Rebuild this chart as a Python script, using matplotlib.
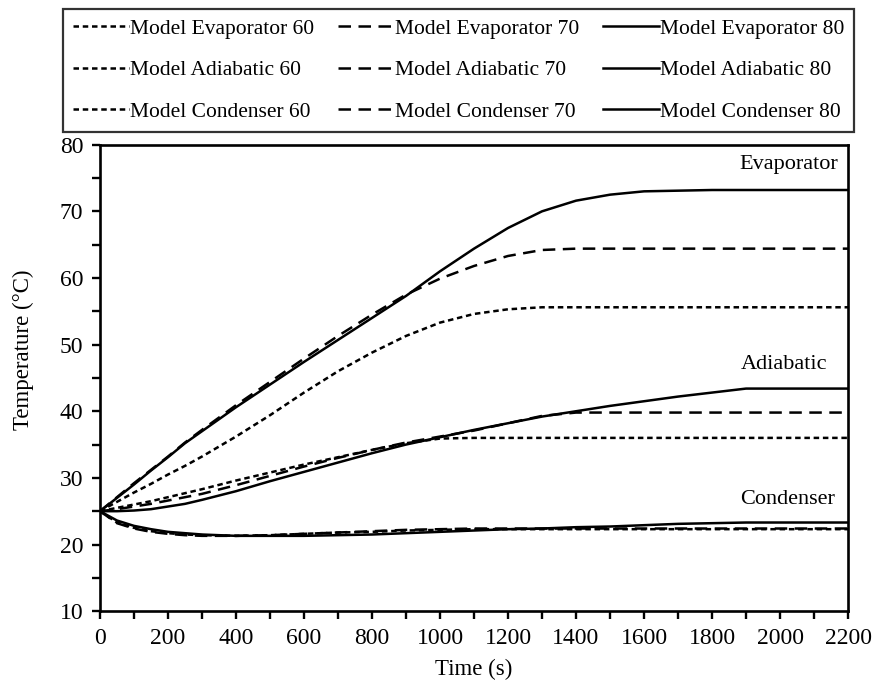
import numpy as np
import matplotlib.pyplot as plt
from matplotlib.ticker import MultipleLocator

plt.rcParams['font.family'] = ['Liberation Serif', 'DejaVu Serif']

# time axis (s)
time = [0, 50, 100, 150, 200, 250, 300, 400, 500, 600, 700, 800, 900, 1000,
        1100, 1200, 1300, 1400, 1500, 1600, 1700, 1800, 1900, 2000, 2100, 2200]

# evaporator temperature (C) for 60 / 70 / 80 cases
evap_60 = [25.0, 26.4, 27.8, 29.1, 30.5, 31.8, 33.2, 36.2, 39.4, 42.8, 46.0, 48.8, 51.3, 53.3,
           54.6, 55.3, 55.6, 55.6, 55.6, 55.6, 55.6, 55.6, 55.6, 55.6, 55.6, 55.6]
evap_70 = [25.0, 27.1, 29.2, 31.2, 33.2, 35.3, 37.2, 40.9, 44.4, 47.9, 51.3, 54.5, 57.5, 59.9,
           61.8, 63.3, 64.2, 64.4, 64.4, 64.4, 64.4, 64.4, 64.4, 64.4, 64.4, 64.4]
evap_80 = [25.0, 27.0, 29.0, 31.1, 33.1, 35.2, 37.0, 40.6, 44.0, 47.4, 50.7, 54.0, 57.3, 61.0,
           64.4, 67.5, 70.0, 71.6, 72.5, 73.0, 73.1, 73.2, 73.2, 73.2, 73.2, 73.2]

# adiabatic section
adia_60 = [25.0, 25.5, 26.0, 26.5, 27.1, 27.7, 28.3, 29.6, 30.8, 32.0, 33.1, 34.2, 35.2, 35.9,
           36.0, 36.0, 36.0, 36.0, 36.0, 36.0, 36.0, 36.0, 36.0, 36.0, 36.0, 36.0]
adia_70 = [25.0, 25.3, 25.7, 26.1, 26.6, 27.1, 27.6, 28.9, 30.3, 31.7, 33.0, 34.2, 35.3, 36.2,
           37.1, 38.2, 39.3, 39.8, 39.8, 39.8, 39.8, 39.8, 39.8, 39.8, 39.8, 39.8]
adia_80 = [25.0, 25.0, 25.1, 25.3, 25.7, 26.1, 26.7, 28.0, 29.5, 30.9, 32.3, 33.7, 35.0, 36.1,
           37.2, 38.2, 39.2, 40.0, 40.8, 41.5, 42.2, 42.8, 43.4, 43.4, 43.4, 43.4]

# condenser section
cond_60 = [25.0, 23.3, 22.5, 22.0, 21.7, 21.5, 21.4, 21.3, 21.4, 21.6, 21.8, 21.9, 22.1, 22.2,
           22.3, 22.3, 22.3, 22.3, 22.3, 22.3, 22.3, 22.3, 22.3, 22.3, 22.3, 22.3]
cond_70 = [25.0, 23.2, 22.4, 21.9, 21.6, 21.4, 21.3, 21.3, 21.4, 21.6, 21.8, 22.0, 22.2, 22.3,
           22.4, 22.4, 22.4, 22.4, 22.4, 22.4, 22.4, 22.4, 22.4, 22.4, 22.4, 22.4]
cond_80 = [25.0, 23.6, 22.8, 22.3, 21.9, 21.7, 21.5, 21.3, 21.3, 21.3, 21.4, 21.5, 21.7, 21.9,
           22.1, 22.3, 22.4, 22.6, 22.7, 22.9, 23.1, 23.2, 23.3, 23.3, 23.3, 23.3]

styles = {60: (0, (2.2, 1.5)), 70: (0, (5.0, 3.0)), 80: '-'}

fig = plt.figure(figsize=(8.77, 6.89), dpi=100)
ax = fig.add_axes([0.114, 0.113, 0.853, 0.677])

series = [
    ('Evaporator', 60, evap_60), ('Adiabatic', 60, adia_60), ('Condenser', 60, cond_60),
    ('Evaporator', 70, evap_70), ('Adiabatic', 70, adia_70), ('Condenser', 70, cond_70),
    ('Evaporator', 80, evap_80), ('Adiabatic', 80, adia_80), ('Condenser', 80, cond_80),
]
handles = []
for name, case, vals in series:
    h, = ax.plot(time, vals, color='black', lw=1.8, linestyle=styles[case],
                 label=f'Model {name} {case}')
    handles.append(h)

ax.set_xlim(0, 2200)
ax.set_ylim(10, 80)
ax.xaxis.set_major_locator(MultipleLocator(200))
ax.xaxis.set_minor_locator(MultipleLocator(100))
ax.yaxis.set_major_locator(MultipleLocator(10))
ax.yaxis.set_minor_locator(MultipleLocator(5))
ax.tick_params(which='both', direction='out', length=6, width=1.7, labelsize=17, pad=6)
for s in ax.spines.values():
    s.set_linewidth(1.9)

ax.set_xlabel('Time (s)', fontsize=16.5, labelpad=7)
ax.set_ylabel('Temperature (°C)', fontsize=16.5)
ax.yaxis.set_label_coords(-0.088, 0.56)

ax.text(2170, 77.0, 'Evaporator', fontsize=16, ha='right', va='center')
ax.text(2138, 47.0, 'Adiabatic', fontsize=16, ha='right', va='center')
ax.text(2162, 26.8, 'Condenser', fontsize=16, ha='right', va='center')

leg = fig.legend(handles=handles, loc='upper center', bbox_to_anchor=(0.523, 0.987),
                 ncol=3, fontsize=15.5, frameon=True, fancybox=False, edgecolor='black',
                 handlelength=2.6, handletextpad=0.05, columnspacing=1.1,
                 labelspacing=1.0, borderpad=0.45, borderaxespad=0)
leg.get_frame().set_linewidth(1.6)

fig.savefig('out.png', dpi=100)
